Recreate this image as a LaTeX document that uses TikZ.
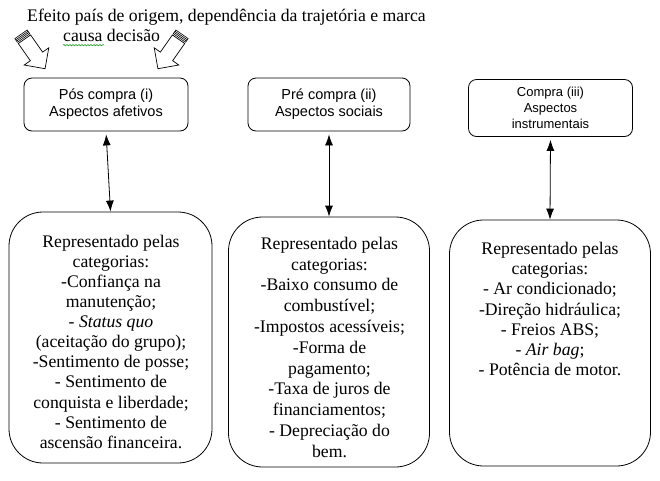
\documentclass[tikz,border=0pt]{standalone}
\usepackage{fontspec}
\setmainfont{Liberation Serif}
\newfontfamily\arialf{Liberation Sans}
\usetikzlibrary{arrows.meta,decorations.pathmorphing,calc}
\begin{document}
\begin{tikzpicture}[x=1pt,y=-1pt,
  topbox/.style={draw, line width=0.8pt, rounded corners=8pt, align=center, inner sep=0pt,
    font=\arialf\fontsize{14.5}{17}\selectfont},
  bigbox/.style={draw, line width=0.8pt, rounded corners=34pt, inner sep=0pt},
  body/.style={align=center, anchor=north, inner sep=0pt},
  titletext/.style={font=\fontsize{17.7}{20}\selectfont, anchor=base west, inner sep=0pt},
  link/.style={{Latex[length=11pt,width=8pt]}-{Latex[length=11pt,width=8pt]}, line width=0.8pt, shorten <=3pt},
  blockarrow/.style={draw, line width=0.7pt, fill=white, line join=miter},
  stripe/.style={line width=0.6pt}
]
\useasboundingbox (0,0) rectangle (660,480);

% title
\node[titletext] (title1) at (27,21.7) {Efeito país de origem, dependência da trajetória e marca};
\node[titletext] (title2) at (63,41.7) {causa decisão};
\draw[green!55!black, line width=0.5pt, decorate, decoration={snake, amplitude=0.7pt, segment length=3pt}]
  ($(title2.base west)+(0,3.5)$) -- ++(41,0);

% striped block arrows
\begin{scope}[shift={(21,34.3)}, rotate=-55]
  \draw[blockarrow] (6,-7.5) -- (27,-7.5) -- (27,-15) -- (42,0) -- (27,15) -- (27,7.5) -- (6,7.5) -- cycle;
  \draw[stripe] (0,-7.5) rectangle (4.5,7.5);
  \draw[stripe] (1.5,-7.5) -- (1.5,7.5) (3,-7.5) -- (3,7.5);
\end{scope}
\begin{scope}[shift={(182,34.3)}, rotate=-125]
  \draw[blockarrow] (6,-7.5) -- (27,-7.5) -- (27,-15) -- (42,0) -- (27,15) -- (27,7.5) -- (6,7.5) -- cycle;
  \draw[stripe] (0,-7.5) rectangle (4.5,7.5);
  \draw[stripe] (1.5,-7.5) -- (1.5,7.5) (3,-7.5) -- (3,7.5);
\end{scope}

% top boxes
\node[topbox, minimum width=164pt, minimum height=53pt] (t1) at (106,104.5) {Pós compra (i)\\Aspectos afetivos};
\node[topbox, minimum width=162pt, minimum height=53pt] (t2) at (329,104.5) {Pré compra (ii)\\Aspectos sociais};
\node[topbox, minimum width=164pt, minimum height=57pt, font=\arialf\fontsize{13}{16}\selectfont] (t3) at (550.5,108) {Compra (iii)\\Aspectos\\instrumentais};

% bottom boxes
\node[bigbox, minimum width=203pt, minimum height=251pt] (b1) at (110.5,337.5) {};
\node[bigbox, minimum width=201pt, minimum height=250pt] (b2) at (329,342) {};
\node[bigbox, minimum width=201pt, minimum height=246pt] (b3) at (550,343) {};

% texts in bottom boxes
\node[body, font=\fontsize{17.7}{20.1}\selectfont] (l1) at (111,234.8) {Representado pelas\\categorias:\\-Confiança na\\manutenção;\\- \textit{Status quo}\\(aceitação do grupo);\\-Sentimento de posse;\\- Sentimento de\\conquista e liberdade;\\- Sentimento de\\ascensão financeira.};
\node[body, font=\fontsize{17.7}{20.8}\selectfont] (l2) at (329.5,236.8) {Representado pelas\\categorias:\\-Baixo consumo de\\combustível;\\-Impostos acessíveis;\\-Forma de\\pagamento;\\-Taxa de juros de\\financiamentos;\\- Depreciação do\\bem.};
\node[body, font=\fontsize{17.7}{20.2}\selectfont] (l3) at (550,242) {Representado pelas\\categorias:\\- Ar condicionado;\\-Direção hidráulica;\\- Freios ABS;\\- \textit{Air bag};\\- Potência de motor.};

% connectors
\draw[link] (t1.south) -- (b1.north);
\draw[link] (t2.south) -- (b2.north);
\draw[link] (t3.south) -- (b3.north);
\end{tikzpicture}
\end{document}
